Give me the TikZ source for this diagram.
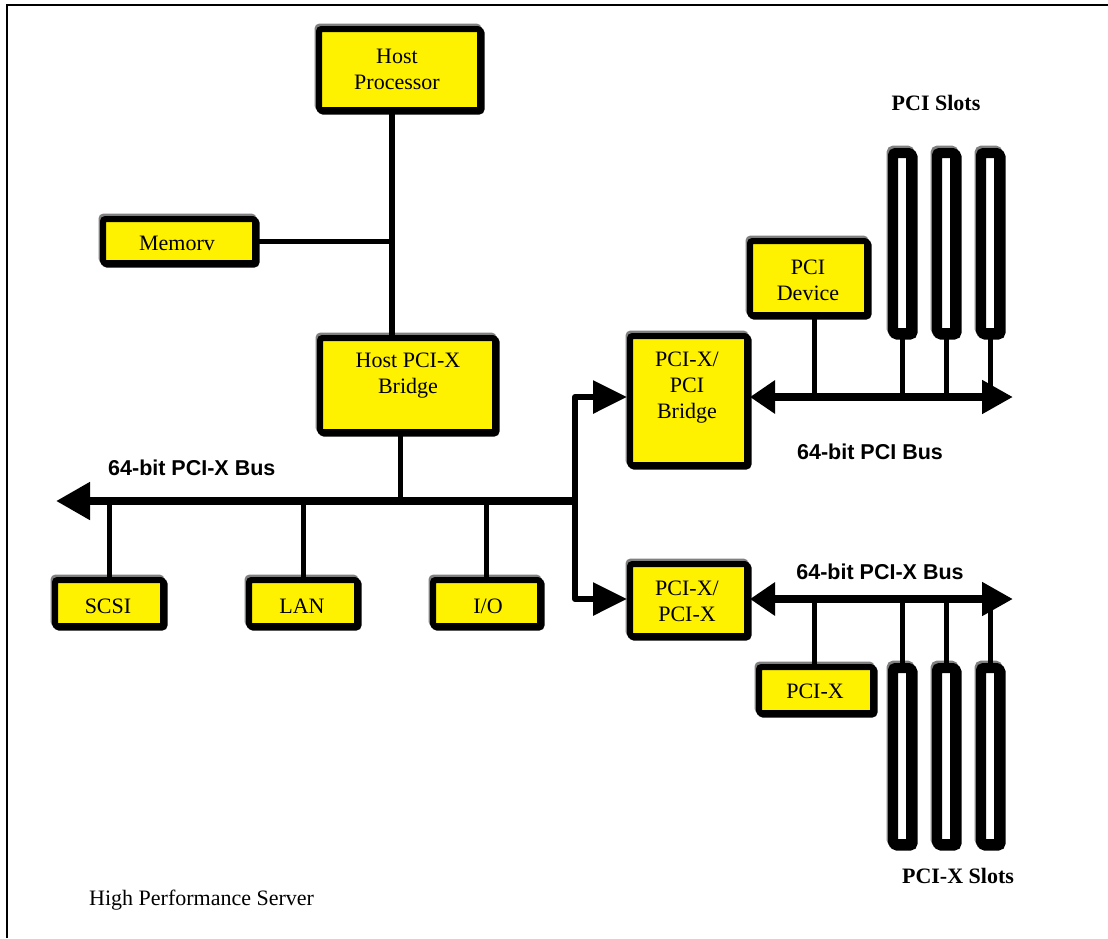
\documentclass[tikz,border=0pt]{standalone}
\usepackage{fontspec}
\setmainfont{Liberation Serif}
\newfontfamily\lsans{Liberation Sans}
\usetikzlibrary{arrows.meta}
\begin{document}
\begin{tikzpicture}[x=1pt,y=-1pt,
  box/.style={draw=black, fill=yellow, line width=6pt, rounded corners=2.5pt, inner sep=0pt,
    preaction={draw=gray, line width=6pt, transform canvas={xshift=-1.5pt,yshift=2.5pt}},
    preaction={draw=black, line width=6pt, transform canvas={xshift=1.5pt,yshift=-1.5pt}}},
  slotbox/.style={draw=black, fill=white, line width=10pt, rounded corners=2.5pt, inner sep=0pt,
    minimum width=18pt,
    preaction={draw=gray, line width=10pt, transform canvas={xshift=-1.5pt,yshift=2.5pt}},
    preaction={draw=black, line width=10pt, transform canvas={xshift=1.5pt,yshift=-1.5pt}}},
  btext/.style={font=\fontsize{22}{26}\selectfont, align=center, inner sep=0pt},
  buslbl/.style={font=\lsans\fontsize{21.5}{24}\selectfont\bfseries, inner sep=0pt},
  slotlbl/.style={font=\fontsize{22}{26}\selectfont\bfseries, inner sep=0pt},
  caption/.style={font=\fontsize{22}{26}\selectfont, inner sep=0pt},
  vline/.style={line width=6pt},
  mline/.style={line width=5pt},
  drop/.style={line width=5pt},
  bus/.style={line width=8pt},
  feed/.style={line width=6pt, line join=round},
  bigtip/.tip={Triangle[length=34pt,width=36pt]},
  intip/.tip={Triangle[length=34pt,width=32pt]},
  ltip/.tip={Triangle[length=25pt,width=32pt]},
  rtip/.tip={Triangle[length=31pt,width=32pt]}
]
\useasboundingbox (0,0) rectangle (1108,938);
\draw[line width=2pt] (7,938) -- (7,5) -- (1108,5);

% coordinates
\coordinate (busL) at (56,501);
\coordinate (busJ) at (575,501);
\coordinate (pciR) at (1013,397);
\coordinate (pcixR) at (1013,599);
\coordinate (vx) at (392,0);
\coordinate (hx) at (400,0);
\coordinate (dx) at (814,0);

% boxes
\node[box, minimum width=161pt, minimum height=81pt] (hp) at (399.5,69.5) {};
\node[box, minimum width=152pt, minimum height=44pt] (mem) at (179,241) {};
\node[box, minimum width=175pt, minimum height=94pt] (hpb) at (407.5,385) {};
\node[box, minimum width=117pt, minimum height=129pt] (b1) at (688.5,400.5) {};
\node[box, minimum width=117pt, minimum height=74pt] (pcidev) at (808.5,278) {};
\node[box, minimum width=117pt, minimum height=72pt] (b2) at (688.5,600) {};
\node[box, minimum width=114pt, minimum height=46pt] (pcix) at (816,690) {};
\node[box, minimum width=108pt, minimum height=46pt] (scsi) at (109,603) {};
\node[box, minimum width=108pt, minimum height=46pt] (lan) at (303,603) {};
\node[box, minimum width=107pt, minimum height=46pt] (io) at (486.5,603) {};

% slots
\node[slotbox, minimum height=180pt] (s1) at (902,243) {};
\node[slotbox, minimum height=180pt] (s2) at (946,243) {};
\node[slotbox, minimum height=180pt] (s3) at (990,243) {};
\node[slotbox, minimum height=176pt] (t1) at (902,756) {};
\node[slotbox, minimum height=176pt] (t2) at (946,756) {};
\node[slotbox, minimum height=176pt] (t3) at (990,756) {};

% box texts
\node[btext] (hpt) at (397,69) {Host\\Processor};
\node[btext] (memt) at (177,243) {Memorv};
\node[btext] (hpbt) at (408,376) {Host PCI-X\\Bridge};
\node[btext] (b1t) at (687,388) {PCI-X/\\PCI\\Bridge};
\node[btext] (pcidevt) at (808,280) {PCI\\Device};
\node[btext] (b2t) at (687,601) {PCI-X/\\PCI-X};
\node[btext] (pcixt) at (815,691) {PCI-X};
\node[btext] (scsit) at (108,606) {SCSI};
\node[btext] (lant) at (302,606) {LAN};
\node[btext] (iot) at (488,606) {I/O};

% connectors
\draw[vline] (hp.south -| vx) -- (hpb.north -| vx);
\draw[mline] (mem.east) -- (mem.east -| vx);
\draw[drop] (hpb.south -| hx) -- (busJ -| hx);
\draw[bus, -bigtip] (busJ) -- (busL);
\draw[drop] (scsi.north) -- (scsi.north |- busJ);
\draw[drop] (lan.north) -- (lan.north |- busJ);
\draw[drop] (io.north) -- (io.north |- busJ);
\draw[feed, -intip] (busJ) |- (b1.west |- pciR);
\draw[feed, -intip] (busJ) |- (b2.west |- pcixR);
\draw[bus, ltip-rtip] (b1.east |- pciR) -- (pciR);
\draw[drop] (pcidev.south -| dx) -- (pciR -| dx);
\draw[drop] (s1.south) -- (s1.south |- pciR);
\draw[drop] (s2.south) -- (s2.south |- pciR);
\draw[drop] (s3.south) -- (s3.south |- pciR);
\draw[bus, ltip-rtip] (b2.east |- pcixR) -- (pcixR);
\draw[drop] (pcix.north -| dx) -- (pcixR -| dx);
\draw[drop] (t1.north) -- (t1.north |- pcixR);
\draw[drop] (t2.north) -- (t2.north |- pcixR);
\draw[drop] (t3.north) -- (t3.north |- pcixR);

% labels
\node[buslbl, anchor=west] (l1) at (108,468) {64-bit PCI-X Bus};
\node[buslbl] (l2) at (870,452) {64-bit PCI Bus};
\node[buslbl] (l3) at (880,572) {64-bit PCI-X Bus};
\node[slotlbl] (l4) at (936,103) {PCI Slots};
\node[slotlbl] (l5) at (958,876) {PCI-X Slots};
\node[caption, anchor=west] (cap) at (89,900) {High Performance Server};
\end{tikzpicture}
\end{document}
